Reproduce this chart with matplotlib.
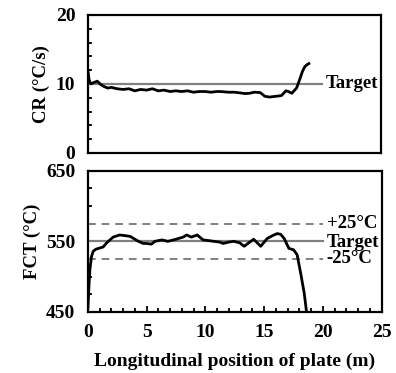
import matplotlib.pyplot as plt
from matplotlib.ticker import MultipleLocator

plt.rcParams['font.family'] = ['Liberation Serif', 'DejaVu Sans']
plt.rcParams['font.weight'] = 'bold'

# Cooling rate along the plate
cr_pos = [0.0, 0.1, 0.25, 0.5, 0.8, 1.1, 1.4, 1.7, 2.0, 2.5, 3.0, 3.5, 4.0, 4.5, 5.0,
          5.5, 6.0, 6.5, 7.0, 7.5, 8.0, 8.5, 9.0, 9.5, 10.0, 10.5, 11.0, 11.3, 12.0,
          12.5, 13.0, 13.4, 13.8, 14.2, 14.7, 15.1, 15.5, 16.0, 16.5, 16.9, 17.1,
          17.4, 17.8, 18.1, 18.3, 18.5, 18.7, 18.85]
cr_val = [12.0, 10.6, 10.0, 10.2, 10.4, 9.9, 9.6, 9.4, 9.5, 9.3, 9.2, 9.3, 9.0, 9.2, 9.1,
          9.3, 9.0, 9.1, 8.9, 9.0, 8.9, 9.0, 8.8, 8.9, 8.9, 8.8, 8.9, 8.9, 8.8,
          8.8, 8.7, 8.6, 8.65, 8.8, 8.75, 8.2, 8.1, 8.2, 8.3, 9.0, 8.9,
          8.65, 9.4, 10.8, 11.8, 12.5, 12.8, 12.95]

# Finish cooling temperature along the plate
fct_pos = [0.0, 0.1, 0.17, 0.3, 0.45, 0.7, 0.9, 1.3, 1.6, 2.15, 2.7, 3.2, 3.6, 4.0, 4.3,
           4.7, 5.0, 5.4, 5.7, 6.3, 6.8, 7.5, 8.1, 8.4, 8.8, 9.3, 9.8, 10.3, 10.7,
           11.2, 11.5, 12.0, 12.4, 12.9, 13.3, 13.7, 14.1, 14.7, 15.25, 15.7, 16.1,
           16.4, 16.7, 17.1, 17.5, 17.8, 18.1, 18.4, 18.6]
fct_val = [455, 490, 510, 528, 536, 539, 540, 542, 548, 556, 559, 558, 557, 553, 550,
           547, 547, 546, 550, 552, 550, 553, 556, 559, 556, 559, 552, 551, 550,
           549, 547, 549, 550, 548, 543, 548, 553, 543, 554, 558, 561,
           560, 554, 540, 538, 531, 505, 477, 450]

target_cr = 10
target_fct = 550
tolerance = 25
target_end = 20

fig = plt.figure(figsize=(3.96, 3.73), dpi=100)
ax1 = fig.add_axes([0.222, 0.590, 0.740, 0.370])
ax2 = fig.add_axes([0.222, 0.164, 0.742, 0.378])

grey = '#808080'
fs_txt = 13.5

# Top panel: cooling rate
ax1.plot([0, target_end], [target_cr, target_cr], color=grey, lw=1.6)
ax1.plot(cr_pos, cr_val, color='black', lw=2)
ax1.text(target_end + 0.3, target_cr, 'Target', fontsize=fs_txt, fontweight='bold', va='center')
ax1.set_xlim(0, 25)
ax1.set_ylim(0, 20)
ax1.set_yticks([0, 10, 20])
ax1.yaxis.set_minor_locator(MultipleLocator(2))
ax1.set_xticks([])
ax1.set_ylabel('CR (°C/s)', fontsize=13.5, fontweight='bold', labelpad=4)

# Bottom panel: finish cooling temperature
ax2.plot([0, target_end], [target_fct + tolerance] * 2, color=grey, lw=1.4, ls=(0, (4, 3)))
ax2.plot([0, target_end], [target_fct - tolerance] * 2, color=grey, lw=1.4, ls=(0, (4, 3)))
ax2.plot([0, target_end], [target_fct, target_fct], color=grey, lw=1.6)
ax2.plot(fct_pos, fct_val, color='black', lw=2)
ax2.text(target_end + 0.3, target_fct + tolerance, '+25°C', fontsize=fs_txt, fontweight='bold', va='center')
ax2.text(target_end + 0.3, target_fct - 1, 'Target', fontsize=fs_txt, fontweight='bold', va='center')
ax2.text(target_end + 0.3, target_fct - tolerance, '-25°C', fontsize=fs_txt, fontweight='bold', va='center')
ax2.set_xlim(0, 25)
ax2.set_ylim(450, 650)
ax2.set_xticks([0, 5, 10, 15, 20, 25])
ax2.xaxis.set_minor_locator(MultipleLocator(1))
ax2.set_yticks([450, 550, 650])
ax2.yaxis.set_minor_locator(MultipleLocator(25))
ax2.set_ylabel('FCT (°C)', fontsize=13.5, fontweight='bold', labelpad=4)
ax2.set_xlabel('Longitudinal position of plate (m)', fontsize=14, fontweight='bold', labelpad=8)

for ax in (ax1, ax2):
    for s in ax.spines.values():
        s.set_linewidth(1.6)
    ax.tick_params(which='both', direction='in', width=1.3, labelsize=14)
    ax.tick_params(which='major', length=4, pad=9)
    ax.tick_params(which='minor', length=3)
    for lab in ax.get_xticklabels() + ax.get_yticklabels():
        lab.set_fontweight('bold')

fig.savefig('out.png', dpi=100)
